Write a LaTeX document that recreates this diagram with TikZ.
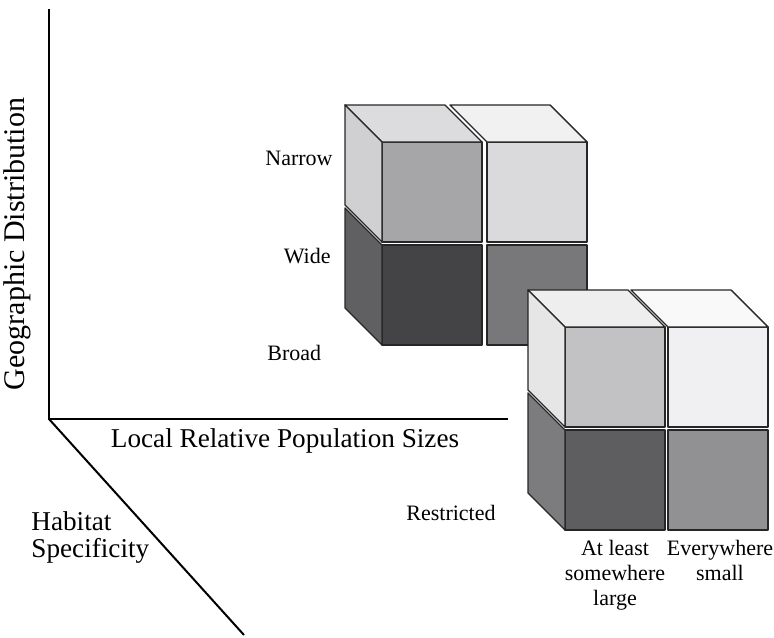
\documentclass[tikz,border=0pt]{standalone}
\usepackage{fontspec}
\setmainfont{Liberation Serif}
\usetikzlibrary{positioning}
% back block colours
\definecolor{bkTLfront}{RGB}{166,166,168}
\definecolor{bkTLtop}{RGB}{220,220,222}
\definecolor{bkTLleft}{RGB}{208,208,210}
\definecolor{bkTRfront}{RGB}{218,218,220}
\definecolor{bkTRtop}{RGB}{241,241,242}
\definecolor{bkBLfront}{RGB}{68,68,70}
\definecolor{bkBLleft}{RGB}{96,96,98}
\definecolor{bkBRfront}{RGB}{120,120,122}
% front block colours
\definecolor{frTLfront}{RGB}{194,194,196}
\definecolor{frTLtop}{RGB}{238,238,238}
\definecolor{frTLleft}{RGB}{230,230,231}
\definecolor{frTRfront}{RGB}{240,240,242}
\definecolor{frTRtop}{RGB}{249,249,249}
\definecolor{frBLfront}{RGB}{94,94,96}
\definecolor{frBLleft}{RGB}{124,124,126}
\definecolor{frBRfront}{RGB}{145,145,147}

\begin{document}
\begin{tikzpicture}[x=0.5pt, y=-0.5pt,
        face/.style={draw=black!85, line width=0.7pt, line join=round},
        axis/.style={line width=1.3pt},
        lbl/.style={font=\fontsize{11}{12.5}\selectfont, inner sep=0pt},
        title/.style={font=\fontsize{13.6}{13.5}\selectfont, inner sep=0pt}
    ]
    \useasboundingbox (0,0) rectangle (774,637);

    % Axes
    \coordinate (top) at (49,9);
    \coordinate (origin) at (49,419);
    \coordinate (right) at (508,419);
    \coordinate (far) at (244,635);
    \draw[axis] (top) -- (origin) -- (right);
    \draw[line width=1pt] (origin) -- (far);

    % Back block
    \foreach \x/\y/\c in {382/142/bkTLfront, 487/142/bkTRfront, 382/245/bkBLfront, 487/245/bkBRfront}
        \draw[face, fill=\c] (\x,\y) rectangle ++(100,100);
    \foreach \x/\y/\c in {382/142/bkTLtop, 487/142/bkTRtop}
        \draw[face, fill=\c] (\x,\y) -- ++(100,0) -- ++(-37,-37) -- ++(-100,0) -- cycle;
    \foreach \x/\y/\c in {382/142/bkTLleft, 382/245/bkBLleft}
        \draw[face, fill=\c] (\x,\y) -- ++(0,100) -- ++(-37,-37) -- ++(0,-100) -- cycle;

    % Front block
    \foreach \x/\y/\c in {565/327/frTLfront, 668/327/frTRfront, 565/430/frBLfront, 668/430/frBRfront}
        \draw[face, fill=\c] (\x,\y) rectangle ++(100,100);
    \foreach \x/\y/\c in {565/327/frTLtop, 668/327/frTRtop}
        \draw[face, fill=\c] (\x,\y) -- ++(100,0) -- ++(-37,-37) -- ++(-100,0) -- cycle;
    \foreach \x/\y/\c in {565/327/frTLleft, 565/430/frBLleft}
        \draw[face, fill=\c] (\x,\y) -- ++(0,100) -- ++(-37,-37) -- ++(0,-100) -- cycle;

    % Axis titles
    \node[title, rotate=90, anchor=base, font=\fontsize{15}{15}\selectfont] (geodist) at (25,244) {Geographic Distribution};
    \node[title, anchor=base] (popsize) at (285,447) {Local Relative Population Sizes};
    \node[title, anchor=north west, align=left] (habitat) at (31,511) {Habitat\\Specificity};

    % Category labels
    \node[lbl, anchor=base east] (narrow) at (333,165) {Narrow};
    \node[lbl, anchor=base east] (wide) at (331,263) {Wide};
    \node[lbl, anchor=base west] (broad) at (267,360) {Broad};
    \node[lbl, anchor=base west] (restricted) at (406,520) {Restricted};
    \node[lbl, anchor=north, align=center] (large) at (615,540) {At least\\somewhere\\large};
    \node[lbl, anchor=north, align=center] (small) at (720,540) {Everywhere\\small};

\end{tikzpicture}
\end{document}
